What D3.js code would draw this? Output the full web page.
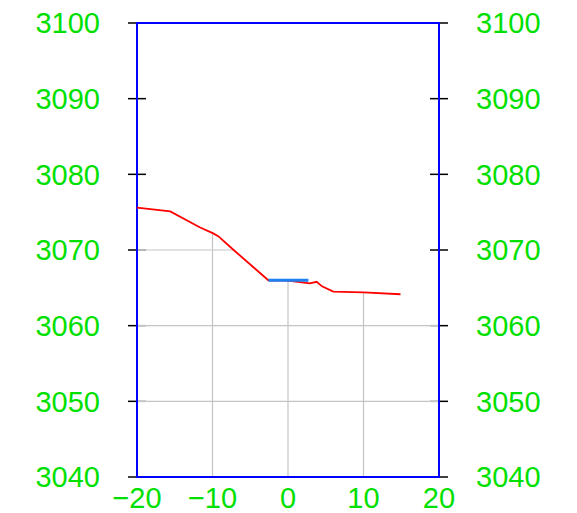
<!DOCTYPE html>
<meta charset="utf-8">
<script src="https://d3js.org/d3.v7.min.js"></script>
<style>
  body { margin: 0; background: #fff; }
  text { font-family: "Liberation Sans", Arial, sans-serif; }
</style>
<div id="chart"></div>
<script>
// profile (red line)
var profX = [-20, -15.6, -11.7, -9.9, -9.2, -7.2, -2.6, 0.0, 2.9, 3.8, 4.5, 6.0, 10.0, 14.9];
var profY = [3075.6, 3075.1, 3073.0, 3072.2, 3071.8, 3070.0, 3066.0, 3065.95, 3065.6, 3065.8, 3065.2, 3064.5, 3064.4, 3064.15];
// short blue segment
var segX = [-2.6, 2.7];
var segY = [3066.0, 3066.0];
// axes
var xTicks = [-20, -10, 0, 10, 20];
var yTicks = [3040, 3050, 3060, 3070, 3080, 3090, 3100];

var W = 577, H = 513;
var mLeft = 137, mRight = 439, mTop = 23, mBottom = 477;

var svg = d3.select("#chart").append("svg")
    .attr("width", W).attr("height", H);

var x = d3.scaleLinear().domain([-20, 20]).range([mLeft, mRight]);
var y = d3.scaleLinear().domain([3040, 3100]).range([mBottom, mTop]);

var green = "#00e000";

// y ticks (both sides, crossing the frame)
yTicks.forEach(function(t) {
  [mLeft, mRight].forEach(function(px) {
    svg.append("line")
      .attr("x1", px - 9).attr("x2", px + 9)
      .attr("y1", y(t)).attr("y2", y(t))
      .attr("stroke", "#000").attr("stroke-width", 1.5);
  });
});

// ground area under the profile (extends to right edge)
var pts = profX.map(function(d, i) { return [d, profY[i]]; });
pts.push([20, profY[profY.length - 1]]);
var area = d3.area()
    .x(function(d) { return x(d[0]); })
    .y0(y(3040))
    .y1(function(d) { return y(d[1]); });

svg.append("clipPath").attr("id", "ground")
  .append("path").attr("d", area(pts));

svg.append("path")
    .attr("d", area(pts))
    .attr("fill", "#fff").attr("fill-opacity", 0.55);

// grid clipped to the ground
var grid = svg.append("g").attr("clip-path", "url(#ground)");
xTicks.forEach(function(t) {
  grid.append("line")
    .attr("x1", x(t)).attr("x2", x(t))
    .attr("y1", mTop).attr("y2", mBottom)
    .attr("stroke", "#c4c4c4").attr("stroke-width", 1.2);
});
yTicks.forEach(function(t) {
  grid.append("line")
    .attr("x1", mLeft).attr("x2", mRight)
    .attr("y1", y(t)).attr("y2", y(t))
    .attr("stroke", "#c4c4c4").attr("stroke-width", 1.2);
});

// frame
svg.append("rect")
    .attr("x", mLeft).attr("y", mTop)
    .attr("width", mRight - mLeft).attr("height", mBottom - mTop)
    .attr("fill", "none").attr("stroke", "#0000ff").attr("stroke-width", 2);

// profile line
var line = d3.line()
    .x(function(d) { return x(d[0]); })
    .y(function(d) { return y(d[1]); });

svg.append("path")
    .attr("d", line(profX.map(function(d, i) { return [d, profY[i]]; })))
    .attr("fill", "none").attr("stroke", "#ff0000").attr("stroke-width", 1.8);

svg.append("path")
    .attr("d", line(segX.map(function(d, i) { return [d, segY[i]]; })))
    .attr("fill", "none").attr("stroke", "#1e7ff0").attr("stroke-width", 3);

// labels
var fs = 29;
svg.selectAll(".yl").data(yTicks).enter().append("text")
    .attr("x", 100).attr("y", function(d) { return y(d); })
    .attr("dy", "0.36em")
    .attr("text-anchor", "end")
    .attr("font-size", fs).attr("fill", green)
    .text(function(d) { return d; });

svg.selectAll(".yr").data(yTicks).enter().append("text")
    .attr("x", 476).attr("y", function(d) { return y(d); })
    .attr("dy", "0.36em")
    .attr("text-anchor", "start")
    .attr("font-size", fs).attr("fill", green)
    .text(function(d) { return d; });

svg.selectAll(".xl").data(xTicks).enter().append("text")
    .attr("x", function(d) { return x(d); }).attr("y", 508)
    .attr("text-anchor", "middle")
    .attr("font-size", fs).attr("fill", green)
    .text(function(d) { return d < 0 ? "\u2212" + Math.abs(d) : d; });
</script>
